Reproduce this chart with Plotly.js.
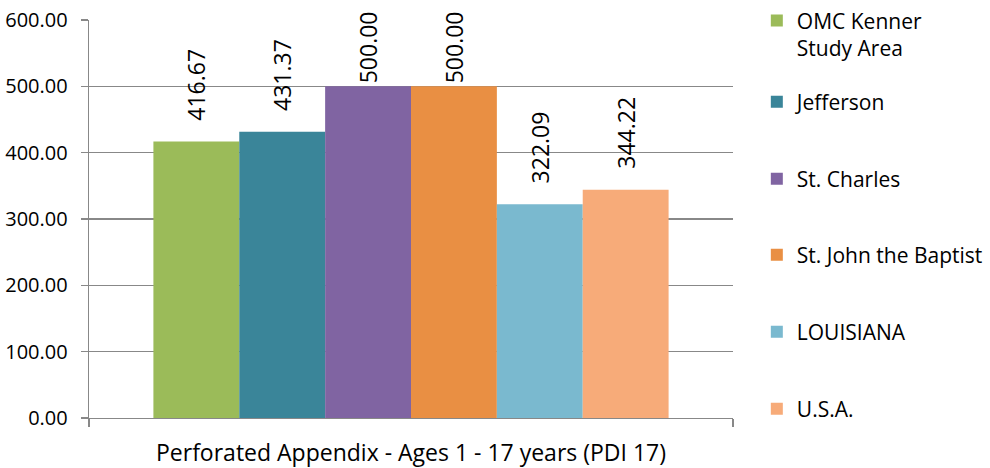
<!DOCTYPE html>
<html>
<head>
<meta charset="utf-8">
<script src="https://cdn.plot.ly/plotly-3.0.1.min.js"></script>
<style>html,body{margin:0;padding:0;background:#fff;}#chart{width:990px;height:468px;}</style>
</head>
<body>
<div id="chart"></div>
<script>
const category = ["Perforated Appendix - Ages 1 - 17 years (PDI 17)"];
const seriesNames = ["OMC Kenner<br>Study Area", "Jefferson", "St. Charles", "St. John the Baptist", "LOUISIANA", "U.S.A."];
const seriesValues = [416.67, 431.37, 500.00, 500.00, 322.09, 344.22];
const seriesColors = ["#9BBB59", "#3A8599", "#8064A2", "#E98F43", "#7AB9CF", "#F7AB79"];
const yTicks = [0, 100, 200, 300, 400, 500, 600];
const yMax = 600;

const FONT = "Open Sans, Noto Sans, sans-serif";
const legendIds = ["legend", "legend2", "legend3", "legend4", "legend5", "legend6"];
const legendY = [0.964, 0.794, 0.6005, 0.4095, 0.216, 0.0226];

// labels near the top of the chart are nudged down to fit (as the source chart does)
const labelPad = v => (v / yMax > 0.78 ? "" : "\u00a0\u00a0\u00a0");

const traces = seriesNames.map((name, i) => ({
  type: "bar",
  name: name,
  x: category,
  y: [seriesValues[i]],
  marker: {color: seriesColors[i], line: {width: 0}},
  text: [seriesValues[i].toFixed(2)],
  texttemplate: labelPad(seriesValues[i]) + "%{text}",
  textposition: "outside",
  textangle: -90,
  textfont: {family: FONT, size: 23, color: "#000"},
  cliponaxis: false,
  constraintext: "none",
  legend: legendIds[i],
  hoverinfo: "name+y"
}));

const layout = {
  width: 990,
  height: 468,
  margin: {l: 89, r: 257, t: 20, b: 50, autoexpand: false},
  paper_bgcolor: "#fff",
  plot_bgcolor: "#fff",
  font: {family: FONT, color: "#000"},
  barmode: "group",
  bargap: 0.2,
  bargroupgap: 0,
  showlegend: true,
  xaxis: {
    type: "category",
    showline: true,
    linecolor: "#888",
    linewidth: 1.3,
    ticks: "outside",
    tickson: "boundaries",
    ticklen: 8,
    tickcolor: "#888",
    tickwidth: 1.3,
    ticklabelstandoff: 14,
    tickfont: {family: FONT, size: 23, color: "#000"},
    showgrid: false,
    zeroline: false,
    automargin: false,
    fixedrange: true
  },
  yaxis: {
    range: [0, yMax],
    tickvals: yTicks,
    ticktext: yTicks.map(v => v.toFixed(2)),
    showline: true,
    linecolor: "#888",
    linewidth: 1.3,
    ticks: "outside",
    ticklen: 7,
    tickcolor: "#888",
    tickwidth: 1.3,
    ticklabelstandoff: 9,
    showgrid: true,
    gridcolor: "#888",
    gridwidth: 1.3,
    zeroline: false,
    automargin: false,
    tickfont: {family: FONT, size: 20, color: "#000"},
    fixedrange: true
  }
};

legendIds.forEach((id, i) => {
  layout[id] = {
    x: 1.037,
    xanchor: "left",
    y: legendY[i],
    yanchor: "middle",
    valign: "top",
    bgcolor: "rgba(0,0,0,0)",
    borderwidth: 0,
    font: {family: FONT, size: 21, color: "#000"}
  };
});

Plotly.newPlot("chart", traces, layout, {displayModeBar: false, staticPlot: true});
</script>
</body>
</html>
